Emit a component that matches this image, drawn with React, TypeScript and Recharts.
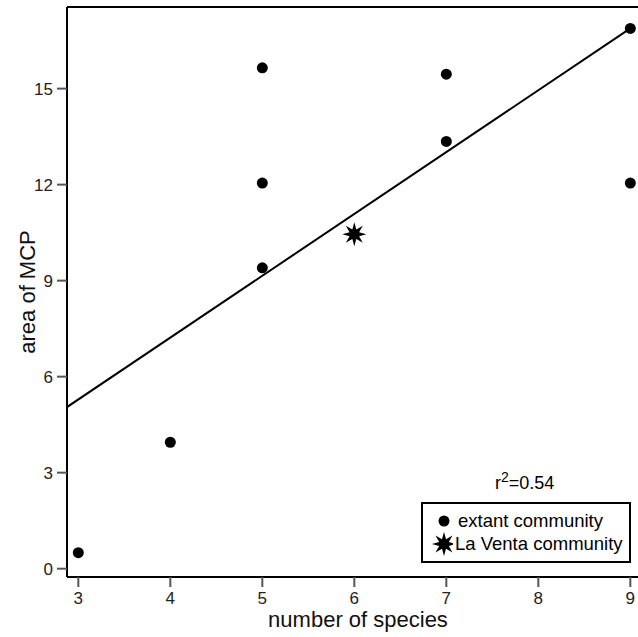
import React from 'react';
import { ReferenceLine, Scatter, ScatterChart, XAxis, YAxis } from 'recharts';

// extant communities
const extantSpecies = [3, 4, 5, 5, 5, 7, 7, 9, 9];
const extantArea = [0.5, 3.95, 9.4, 12.05, 15.65, 13.35, 15.45, 16.88, 12.05];

// fossil community
const laVentaSpecies = [6];
const laVentaArea = [10.45];

// regression line end points
const fitSpecies = [2.877, 9];
const fitArea = [5.05, 16.88];

const xTicks = [3, 4, 5, 6, 7, 8, 9];
const yTicks = [0, 3, 6, 9, 12, 15];
const rSquared = '0.54';

const FONT = '"Liberation Sans", Arial, sans-serif';

const extantData = extantSpecies.map((x, i) => ({ x, y: extantArea[i] }));
const laVentaData = laVentaSpecies.map((x, i) => ({ x, y: laVentaArea[i] }));
const fitData = fitSpecies.map((x, i) => ({ x, y: fitArea[i] }));

function starPoints(cx: number, cy: number, outer: number, inner: number) {
  const pts: string[] = [];
  for (let i = 0; i < 16; i++) {
    const r = i % 2 === 0 ? outer : inner;
    const a = (Math.PI / 8) * i - Math.PI / 2;
    pts.push(`${cx + r * Math.cos(a)},${cy + r * Math.sin(a)}`);
  }
  return pts.join(' ');
}

const Dot = (props: any) => <circle cx={props.cx} cy={props.cy} r={5.5} fill='#000' />;
const Star = (props: any) => <polygon points={starPoints(props.cx, props.cy, 12, 5.2)} fill='#000' />;
const NoShape = () => <g />;

// legend box + r² note, laid over the plot
function LegendBox() {
  return (
    <div style={{ position: 'absolute', left: 410, top: 470, width: 230, height: 100, fontFamily: FONT, color: '#000' }}>
      <div style={{ position: 'absolute', left: 85, top: 3, fontSize: 18, lineHeight: '20px', whiteSpace: 'nowrap' }}>
        r<span style={{ fontSize: 14, position: 'relative', top: -7 }}>2</span>={rSquared}
      </div>
      <div
        style={{
          position: 'absolute',
          left: 11,
          top: 32,
          width: 206,
          height: 57,
          border: '2px solid #000',
          background: '#fff',
          fontSize: 18.5,
          whiteSpace: 'nowrap'
        }}
      >
        <svg width={30} height={57} style={{ position: 'absolute', left: 0, top: 0 }}>
          <circle cx={21} cy={17} r={5.5} fill='#000' />
          <polygon points={starPoints(21, 40, 12, 5.2)} fill='#000' />
        </svg>
        <div style={{ position: 'absolute', left: 35, top: 6, lineHeight: '22px' }}>extant community</div>
        <div style={{ position: 'absolute', left: 32, top: 29, lineHeight: '22px' }}>La Venta community</div>
      </div>
    </div>
  );
}

export default function App() {
  return (
    <div style={{ position: 'absolute', left: 0, top: 0, width: 638, height: 637, overflow: 'hidden', background: '#fff' }}>
      <ScatterChart width={660} height={637} margin={{ top: 7, right: 11, bottom: 0, left: 0 }}>
        <XAxis
          type='number'
          dataKey='x'
          domain={[2.877, 9.203]}
          ticks={xTicks}
          allowDataOverflow
          height={60}
          tickSize={10}
          tickMargin={5}
          axisLine={{ stroke: '#000', strokeWidth: 2 }}
          tickLine={{ stroke: '#555', strokeWidth: 2 }}
          tick={{ fill: '#222', fontSize: 17, fontFamily: FONT }}
          label={{
            content: () => (
              <text x={358} y={627} textAnchor='middle' fontSize={22} fontFamily={FONT} fill='#111'>
                number of species
              </text>
            )
          }}
        />
        <YAxis
          type='number'
          dataKey='y'
          domain={[-0.26, 17.55]}
          ticks={yTicks}
          allowDataOverflow
          width={67}
          tickSize={10}
          tickMargin={4}
          axisLine={{ stroke: '#000', strokeWidth: 2 }}
          tickLine={{ stroke: '#555', strokeWidth: 2 }}
          tick={{ fill: '#222', fontSize: 17, fontFamily: FONT }}
          label={{
            content: () => (
              <text
                x={0}
                y={0}
                transform='translate(27,292) rotate(-90)'
                textAnchor='middle'
                dominantBaseline='central'
                fontSize={22}
                fontFamily={FONT}
                fill='#111'
              >
                area of MCP
              </text>
            )
          }}
        />
        <ReferenceLine y={17.55} stroke='#000' strokeWidth={2} />
        <Scatter
          name='fit'
          data={fitData}
          line={{ stroke: '#000', strokeWidth: 2 }}
          shape={NoShape}
          legendType='none'
          isAnimationActive={false}
        />
        <Scatter name='extant community' data={extantData} shape={Dot} isAnimationActive={false} />
        <Scatter name='La Venta community' data={laVentaData} shape={Star} isAnimationActive={false} />
      </ScatterChart>
      <LegendBox />
    </div>
  );
}
